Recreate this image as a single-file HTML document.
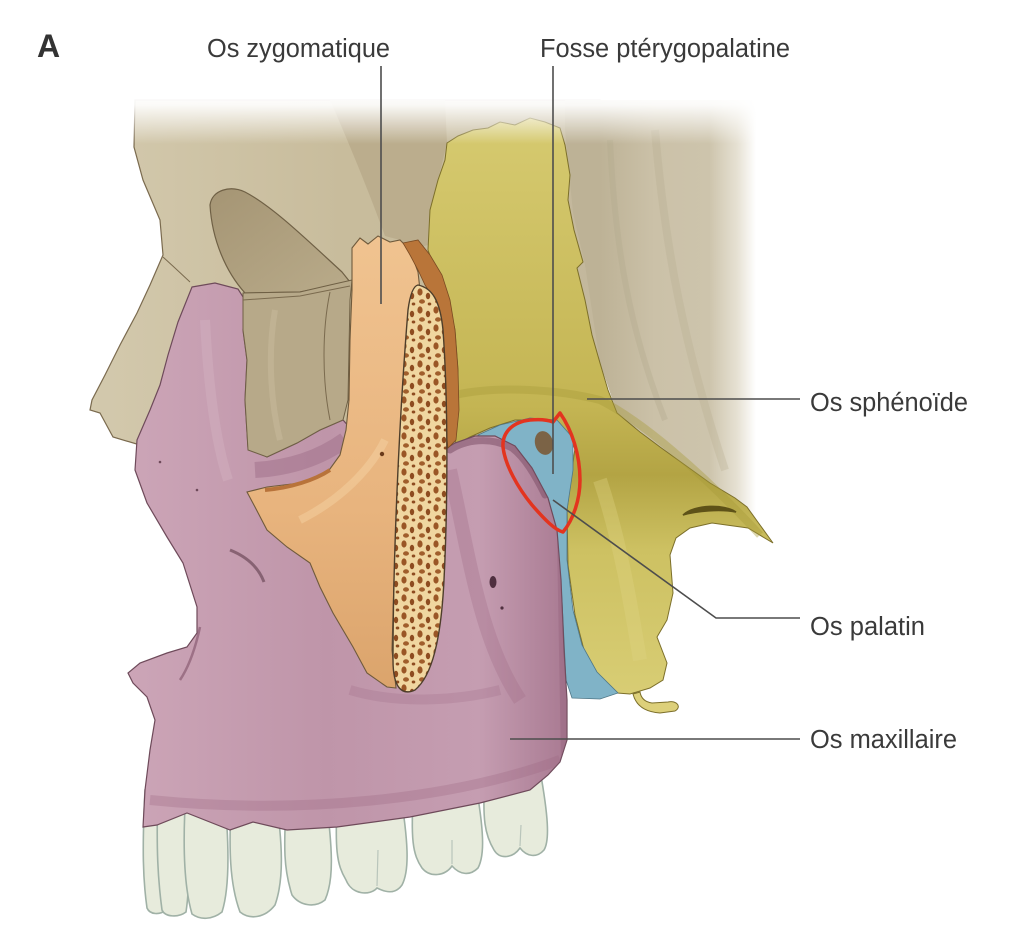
<!DOCTYPE html>
<html><head><meta charset="utf-8">
<style>
html,body{margin:0;padding:0;background:#fff;}
svg{display:block;}
text{font-family:"Liberation Sans",Arial,sans-serif;fill:#3a3a3a;}
</style></head>
<body>
<svg width="1024" height="942" viewBox="0 0 1024 942" xmlns="http://www.w3.org/2000/svg">
<defs>
  <linearGradient id="beigeG" x1="0" y1="0" x2="1" y2="0">
    <stop offset="0" stop-color="#d3c9ad"/>
    <stop offset="0.5" stop-color="#c8bc9c"/>
    <stop offset="1" stop-color="#c3b89d"/>
  </linearGradient>
  <linearGradient id="rightG" gradientUnits="userSpaceOnUse" x1="600" y1="0" x2="756" y2="0">
    <stop offset="0" stop-color="#bdb296"/>
    <stop offset="0.35" stop-color="#cbc1a8"/>
    <stop offset="0.7" stop-color="#cdc4ac"/>
    <stop offset="0.88" stop-color="#e6e1d3"/>
    <stop offset="1" stop-color="#ffffff"/>
  </linearGradient>
  <linearGradient id="orbG" x1="0" y1="0" x2="1" y2="1">
    <stop offset="0" stop-color="#a59574"/>
    <stop offset="1" stop-color="#b9ab8a"/>
  </linearGradient>
  <linearGradient id="yelG" x1="0" y1="0" x2="0" y2="1">
    <stop offset="0" stop-color="#d6ca70"/>
    <stop offset="0.5" stop-color="#c4b553"/>
    <stop offset="0.62" stop-color="#b3a444"/>
    <stop offset="0.75" stop-color="#cdc162"/>
    <stop offset="1" stop-color="#d8cd74"/>
  </linearGradient>
  <linearGradient id="pinkG" x1="0" y1="0" x2="1" y2="0">
    <stop offset="0" stop-color="#cca5b7"/>
    <stop offset="0.45" stop-color="#bf95a9"/>
    <stop offset="0.8" stop-color="#c59db1"/>
    <stop offset="1" stop-color="#a97a92"/>
  </linearGradient>
  <linearGradient id="zygG" x1="0" y1="0" x2="0" y2="1">
    <stop offset="0" stop-color="#f0c390"/>
    <stop offset="0.6" stop-color="#e8b47e"/>
    <stop offset="1" stop-color="#dba46c"/>
  </linearGradient>
  <linearGradient id="topFade" x1="0" y1="0" x2="0" y2="1">
    <stop offset="0" stop-color="#fff" stop-opacity="1"/>
    <stop offset="0.25" stop-color="#fff" stop-opacity="0.92"/>
    <stop offset="1" stop-color="#fff" stop-opacity="0"/>
  </linearGradient>
  <pattern id="sp" width="16" height="18" patternUnits="userSpaceOnUse">
    <rect width="16" height="18" fill="#f0d6a0"/>
    <ellipse cx="4" cy="4" rx="2.6" ry="3.6" fill="#9a5626"/>
    <ellipse cx="12" cy="8" rx="2.2" ry="3.2" fill="#8e4c20"/>
    <ellipse cx="6" cy="13.5" rx="3" ry="2.2" fill="#a05e2c"/>
    <ellipse cx="13.5" cy="16" rx="1.8" ry="1.5" fill="#8e4c20"/>
  </pattern>
  <path id="pinkPath" d="M192,287 L215,283 L238,289 L245,300 L243,330 L247,360 L245,400 L248,447 L267,457 L297,443 L320,430 L343,420 L352,430 L380,445 L440,452 L455,443 L475,436 L495,436 L515,446 L532,468 L548,498 L557,530 L561,580 L564,650 L567,700 L567,740 L560,762 L548,775 L530,790 L480,803 L410,817 L337,827 L287,830 L253,822 L230,830 L187,813 L157,825 L143,827 L145,790 L150,750 L155,720 L147,697 L133,683 L128,673 L140,663 L167,653 L187,647 L197,633 L197,607 L183,563 L167,537 L147,503 L135,470 L137,440 L150,410 L160,385 L168,355 L178,322 Z"/>
  <clipPath id="pinkClip"><use href="#pinkPath"/></clipPath>
</defs>

<!-- Skull beige background (left/main) -->
<path d="M135,100 L600,100 L600,430 L560,440 L450,452 L250,458 L140,445 L113,437 L100,413 L90,410 L92,400 L105,375 L120,345 L137,313 L150,285 L163,255 L160,220 L143,180 L134,147 Z" fill="url(#beigeG)" stroke="#7a6a4e" stroke-width="1.2"/>
<!-- right region with fade -->
<path d="M565,100 L770,100 L770,525 L773,543 L747,507 L710,483 L660,447 L617,413 L600,363 L585,265 L573,213 L565,130 Z" fill="url(#rightG)"/>
<path d="M610,140 C615,250 630,330 665,420" stroke="#b3a88c" stroke-width="6" fill="none" opacity="0.35"/>
<path d="M655,130 C665,250 685,350 725,470" stroke="#b7ac90" stroke-width="8" fill="none" opacity="0.3"/>
<!-- temporal darker area -->
<path d="M330,100 L445,100 L447,143 L438,180 L430,210 L428,245 L410,250 L400,240 L385,236 C372,200 352,150 330,100 Z" fill="#bbad8d"/>
<!-- orbit hollow -->
<path d="M210,205 C212,190 230,185 245,192 C272,206 305,238 342,272 L350,282 L300,292 L245,293 C226,272 212,240 210,205 Z" fill="url(#orbG)" stroke="#6f6045" stroke-width="1.2"/>
<path d="M163,257 L175,268 L190,282" stroke="#7a6a4e" stroke-width="1" fill="none"/>

<!-- Yellow sphenoid -->
<path d="M447,143 L458,136 L473,130 L488,128 L500,122 L515,125 L530,118 L545,122 L560,128 L565,145 L570,175 L568,200 L574,230 L583,262 L577,268 L585,300 L592,335 L600,363 L608,390 L617,413 L640,432 L660,447 L685,465 L710,483 L735,498 L747,507 L760,525 L773,543 L748,528 L712,523 L690,528 L676,538 L670,555 L673,593 L667,620 L657,637 L667,663 L663,680 L650,688 L630,694 L617,693 L598,675 L584,650 L575,615 L568,565 L567,510 L572,470 L575,448 L560,430 L540,420 L515,420 L490,428 L470,437 L455,445 L458,410 L458,370 L455,330 L448,300 L435,270 L428,250 L430,210 L438,180 L445,160 Z" fill="url(#yelG)" stroke="#7c6f2a" stroke-width="1"/>
<path d="M455,395 C500,385 560,390 600,400 C640,420 700,470 760,535" stroke="#a89a3a" stroke-width="8" fill="none" opacity="0.4"/>
<path d="M600,480 C620,540 630,600 640,660" stroke="#e0d585" stroke-width="14" fill="none" opacity="0.35"/>
<!-- lateral plate hole -->
<path d="M683,515 C695,504 725,504 736,512 C720,509 697,511 683,515 Z" fill="#5e5218" stroke="#5e5218" stroke-width="1.5"/>
<!-- hamulus hook -->
<path d="M633,694 C636,706 645,712 660,713 L675,711 C682,707 677,700 668,702 L652,703 C645,702 641,698 640,692 Z" fill="#ddd07a" stroke="#7c6f2a" stroke-width="1"/>

<!-- Blue palatine -->
<path d="M478,435 L500,425 L530,418 L557,420 L573,438 L573,470 L567,510 L567,560 L573,610 L582,645 L597,672 L618,693 L600,699 L572,698 L566,680 L564,640 L562,600 L559,560 L554,520 L545,492 L530,470 L510,450 L490,442 Z" fill="#80b3c7" stroke="#4f7787" stroke-width="0.8"/>
<ellipse cx="544" cy="443" rx="9" ry="12" transform="rotate(-15 544 443)" fill="#7b6346"/>

<!-- Teeth (under maxilla) -->
<g fill="#e7ebdc" stroke="#a0b1a6" stroke-width="1.6">
  <path d="M145,790 L166,790 C170,850 169,885 166,910 C160,915 150,915 147,908 C143,880 142,850 145,790 Z"/>
  <path d="M158,790 L185,790 C190,850 190,885 186,912 C178,918 165,917 162,910 C158,880 156,850 158,790 Z"/>
  <path d="M186,790 L224,790 C230,850 229,890 222,912 C212,920 200,920 192,914 C185,890 182,850 186,790 Z"/>
  <path d="M232,790 L275,790 C283,845 284,880 275,905 C265,918 250,920 240,912 C230,885 228,850 232,790 Z"/>
  <path d="M287,790 L325,790 C333,850 334,880 325,900 C315,908 300,906 292,895 C284,870 283,850 287,790 Z"/>
  <path d="M338,790 L400,790 C408,840 410,870 402,885 C395,895 385,892 377,888 C370,896 352,895 346,880 C337,865 334,850 338,790 Z"/>
  <path d="M414,785 L475,780 C484,830 485,855 478,868 C470,876 460,875 452,866 C445,876 430,878 422,868 C413,855 410,840 414,785 Z"/>
  <path d="M485,775 L540,770 C548,815 550,840 544,850 C537,858 527,857 520,848 C513,858 500,860 494,850 C485,835 482,820 485,775 Z"/>
</g>
<g stroke="#b9c5bb" stroke-width="1.2" fill="none">
  <path d="M378,850 L377,886"/><path d="M452,840 L452,864"/><path d="M521,825 L520,846"/>
</g>

<!-- Maxilla pink -->
<use href="#pinkPath" fill="url(#pinkG)" stroke="#6e4a5a" stroke-width="1.2"/>
<!-- pink shading (clipped) -->
<g clip-path="url(#pinkClip)">
  <path d="M450,450 C465,440 490,436 512,448 C525,458 535,475 545,495" stroke="#7e5068" stroke-width="7" fill="none" opacity="0.55" stroke-linecap="round"/>
  <path d="M450,470 C470,560 480,640 520,700" stroke="#a2718a" stroke-width="14" fill="none" opacity="0.35"/>
  <path d="M255,470 C290,468 320,458 345,440" stroke="#9c6a84" stroke-width="16" fill="none" opacity="0.45"/>
  <path d="M205,320 C208,380 215,440 228,480" stroke="#d8b8c7" stroke-width="10" fill="none" opacity="0.35"/>
  <path d="M350,690 C400,705 460,700 500,690" stroke="#a2718a" stroke-width="10" fill="none" opacity="0.3"/>
  <path d="M562,540 L566,760" stroke="#8f5f78" stroke-width="10" fill="none" opacity="0.35"/>
  <path d="M150,800 C300,815 450,800 560,760" stroke="#9a6880" stroke-width="10" fill="none" opacity="0.3"/>
</g>
<path d="M230,550 C245,556 258,566 264,582" stroke="#6e4a5a" stroke-width="3" fill="none" opacity="0.7"/>
<path d="M200,627 C195,650 188,668 180,680" stroke="#8a5d74" stroke-width="2.5" fill="none" opacity="0.7"/>
<ellipse cx="493" cy="582" rx="3.5" ry="6" fill="#4f2f3f"/>
<circle cx="502" cy="608" r="1.6" fill="#4f2f3f"/>
<circle cx="160" cy="462" r="1.3" fill="#6e4a5a"/>
<circle cx="197" cy="490" r="1.3" fill="#6e4a5a"/>

<!-- orbital walls (beige over pink) -->
<path d="M243,293 L300,292 L330,285 L352,280 L350,300 L348,400 L343,420 L320,430 L297,443 L267,457 L248,450 L245,400 L247,360 L243,330 Z" fill="#b7a989" stroke="#6f6045" stroke-width="1"/>
<path d="M243,300 L300,296 L330,290 L350,286" stroke="#7a6a4e" stroke-width="1" fill="none"/>
<path d="M330,292 C322,330 322,380 330,420" stroke="#7a6a4e" stroke-width="1" fill="none"/>
<path d="M275,310 C268,350 270,400 280,440" stroke="#c6b999" stroke-width="6" fill="none" opacity="0.6"/>

<!-- Zygoma -->
<path d="M352,248 L360,238 L368,244 L378,236 L390,242 L400,240 L410,250 L418,272 L420,290 L410,300 L406,340 L402,420 L398,500 L394,580 L392,650 L396,688 L387,687 L367,673 L353,647 L333,613 L320,587 L310,563 L287,547 L267,530 L255,507 L247,492 L267,487 L300,483 L327,473 L340,455 L346,430 L349,400 L350,340 L352,290 Z" fill="url(#zygG)" stroke="#6f5a3c" stroke-width="1.1"/>
<path d="M265,490 C290,488 315,480 330,470" stroke="#b8733a" stroke-width="4" fill="none"/>
<path d="M300,520 C340,500 370,470 385,440" stroke="#f6d4a6" stroke-width="8" fill="none" opacity="0.45"/>
<circle cx="382" cy="454" r="2.2" fill="#6a3a1a"/>
<!-- brown strip -->
<path d="M403,243 L418,240 L430,255 L442,275 L450,300 L455,330 L458,370 L459,410 L456,440 L448,448 L445,420 L443,380 L440,330 L435,300 L425,285 L418,270 L410,255 Z" fill="#b97539" stroke="#7a4a22" stroke-width="0.8"/>
<!-- cut surface (spongy) -->
<path d="M418,285 C432,288 440,300 443,330 C448,400 448,500 444,580 C441,640 432,676 415,690 C402,696 393,688 393,660 C393,560 399,420 408,310 C410,295 413,286 418,285 Z" fill="url(#sp)" stroke="#4e3e2a" stroke-width="1.4"/>

<!-- top fade -->
<rect x="80" y="92" width="720" height="52" fill="url(#topFade)"/>

<!-- Red outline -->
<path d="M553,422 L560,413 C572,430 580,455 580,480 C580,500 573,520 563,532 C555,530 545,520 532,505 C518,488 505,465 503,447 C502,433 512,422 530,420 C540,419 548,420 553,422" fill="none" stroke="#e3341f" stroke-width="3.5" stroke-linejoin="round" stroke-linecap="round"/>

<!-- Leader lines -->
<g stroke="#4d4d4d" stroke-width="1.6" fill="none">
  <line x1="381" y1="66" x2="381" y2="304"/>
  <line x1="553" y1="66" x2="553" y2="474"/>
  <line x1="587" y1="399" x2="800" y2="399"/>
  <polyline points="553,500 716,618 800,618"/>
  <line x1="510" y1="739" x2="800" y2="739"/>
</g>

<!-- Labels -->
<text x="37" y="57" font-size="32" font-weight="bold" style="fill:#333">A</text>
<text x="207" y="57" font-size="25.5" textLength="183" lengthAdjust="spacingAndGlyphs">Os zygomatique</text>
<text x="540" y="57" font-size="25.5" textLength="250" lengthAdjust="spacingAndGlyphs">Fosse ptérygopalatine</text>
<text x="810" y="411" font-size="25.5" textLength="158" lengthAdjust="spacingAndGlyphs">Os sphénoïde</text>
<text x="810" y="635" font-size="25.5" textLength="115" lengthAdjust="spacingAndGlyphs">Os palatin</text>
<text x="810" y="748" font-size="25.5" textLength="147" lengthAdjust="spacingAndGlyphs">Os maxillaire</text>
</svg>
</body></html>
